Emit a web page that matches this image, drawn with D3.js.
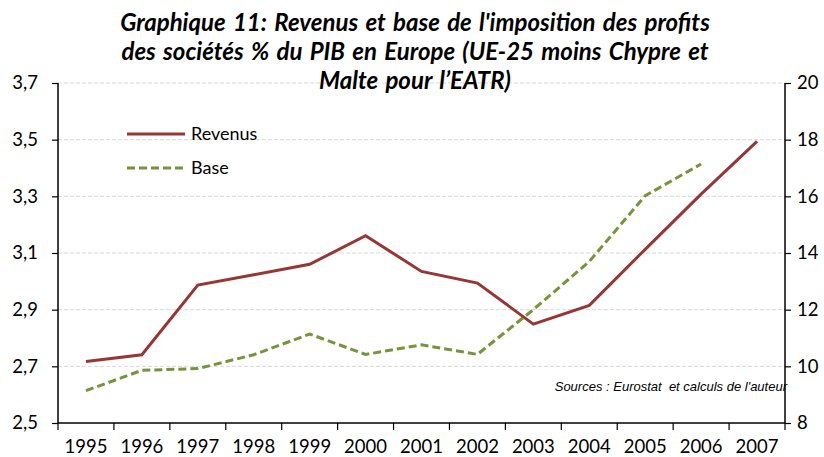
<!DOCTYPE html>
<html>
<head>
<meta charset="utf-8">
<script src="https://cdn.jsdelivr.net/npm/d3@7"></script>
<style>
  body { margin: 0; background: #fff; }
</style>
</head>
<body>
<div id="chart"></div>
<script>
// Data
var years = ["1995", "1996", "1997", "1998", "1999", "2000", "2001", "2002", "2003", "2004", "2005", "2006", "2007"];
var revenus = [2.717, 2.741, 2.987, 3.023, 3.060, 3.161, 3.035, 2.994, 2.849, 2.915, 3.113, 3.308, 3.494];
var base = [9.14, 9.86, 9.92, 10.41, 11.14, 10.42, 10.76, 10.42, 12.0, 13.70, 16.02, 17.14, null];
var leftTicks = [2.5, 2.7, 2.9, 3.1, 3.3, 3.5, 3.7];
var rightTicks = [8, 10, 12, 14, 16, 18, 20];
var titleLines = [
    "Graphique 11: Revenus et base de l'imposition des profits",
    "des sociétés % du PIB en Europe (UE-25 moins Chypre et",
    "Malte pour l\u2019EATR)"
];

var totalW = 824, totalH = 457;
var margin = {top: 83, right: 39, bottom: 34, left: 58};
var width = totalW - margin.left - margin.right;
var height = totalH - margin.top - margin.bottom;
var font = "Lato, 'Open Sans', sans-serif";
var colorRev = "#953735", colorBase = "#77933c";

var root = d3.select("#chart").append("svg")
    .attr("width", totalW)
    .attr("height", totalH);
var svg = root.append("g")
    .attr("transform", "translate(" + margin.left + "," + margin.top + ")");

var x = d3.scaleBand().domain(years).range([0, width]);
var yL = d3.scaleLinear().domain([2.5, 3.7]).range([height, 0]);
var yR = d3.scaleLinear().domain([8, 20]).range([height, 0]);
var fmt = function(d) { return d3.format(".1f")(d).replace(".", ","); };

// Gridlines
svg.append("g")
    .selectAll("line")
    .data(leftTicks.slice(1))
    .enter()
    .append("line")
    .attr("x1", 0)
    .attr("x2", width)
    .attr("y1", function(d) { return yL(d); })
    .attr("y2", function(d) { return yL(d); })
    .attr("stroke", "#d9d9d9")
    .attr("stroke-width", 1)
    .attr("stroke-dasharray", "4,2");

// Axes
var gL = svg.append("g")
    .call(d3.axisLeft(yL).tickValues(leftTicks).tickFormat(fmt).tickSize(6).tickPadding(14));
var gR = svg.append("g")
    .attr("transform", "translate(" + width + ",0)")
    .call(d3.axisRight(yR).tickValues(rightTicks).tickSize(6).tickPadding(6));
var gX = svg.append("g")
    .attr("transform", "translate(0," + height + ")")
    .call(d3.axisBottom(x).tickSize(0).tickPadding(17));

[gL, gR, gX].forEach(function(g) {
    g.select(".domain").attr("stroke", "#000").attr("stroke-width", 1.5);
    g.selectAll(".tick line").attr("stroke", "#000").attr("stroke-width", 1.2);
    g.selectAll("text")
        .attr("font-family", font)
        .style("font-size", "18.5px")
        .attr("fill", "#000");
});
gX.select(".domain").attr("d", "M0,0H" + width);
gL.select(".domain").attr("d", "M0," + height + "V0");
gR.select(".domain").attr("d", "M0," + height + "V0");

// Category boundary ticks on x axis
svg.append("g")
    .selectAll("line")
    .data(years.concat(["end"]))
    .enter()
    .append("line")
    .attr("x1", function(d, i) { return i * x.step(); })
    .attr("x2", function(d, i) { return i * x.step(); })
    .attr("y1", height)
    .attr("y2", height + 7)
    .attr("stroke", "#000")
    .attr("stroke-width", 1.2);

// Lines
var lineRev = d3.line()
    .x(function(d, i) { return x(years[i]) + x.bandwidth() / 2; })
    .y(function(d) { return yL(d); });
var lineBase = d3.line()
    .defined(function(d) { return d !== null; })
    .x(function(d, i) { return x(years[i]) + x.bandwidth() / 2; })
    .y(function(d) { return yR(d); });

svg.append("path")
    .datum(base)
    .attr("fill", "none")
    .attr("stroke", colorBase)
    .attr("stroke-width", 3)
    .attr("stroke-dasharray", "8,4")
    .attr("d", lineBase);

svg.append("path")
    .datum(revenus)
    .attr("fill", "none")
    .attr("stroke", colorRev)
    .attr("stroke-width", 3)
    .attr("d", lineRev);

// Legend
function addLegendEntry(yPos, color, dash, label) {
    root.append("line")
        .attr("x1", 127)
        .attr("x2", 185)
        .attr("y1", yPos)
        .attr("y2", yPos)
        .attr("stroke", color)
        .attr("stroke-width", 3)
        .attr("stroke-dasharray", dash);
    root.append("text")
        .attr("font-family", font)
        .style("font-size", "18px")
        .attr("x", 191)
        .attr("y", yPos + 6)
        .text(label);
}
addLegendEntry(134, colorRev, null, "Revenus");
addLegendEntry(168, colorBase, "8,4", "Base");

// Source note
root.append("text")
    .attr("font-family", "'Liberation Sans', Arial, sans-serif")
    .style("font-size", "13px")
    .style("font-style", "italic")
    .attr("text-anchor", "end")
    .attr("x", 787)
    .attr("y", 391)
    .attr("xml:space", "preserve")
    .text("Sources : Eurostat  et calculs de l'auteur");

// Title
root.append("g")
    .selectAll("text")
    .data(titleLines)
    .enter()
    .append("text")
    .attr("font-family", font)
    .style("font-size", "24px")
    .style("font-weight", "bold")
    .style("font-style", "italic")
    .style("word-spacing", "2px")
    .attr("text-anchor", "middle")
    .attr("x", 415)
    .attr("y", function(d, i) { return 31 + i * 29; })
    .text(function(d) { return d; });
</script>
</body>
</html>
